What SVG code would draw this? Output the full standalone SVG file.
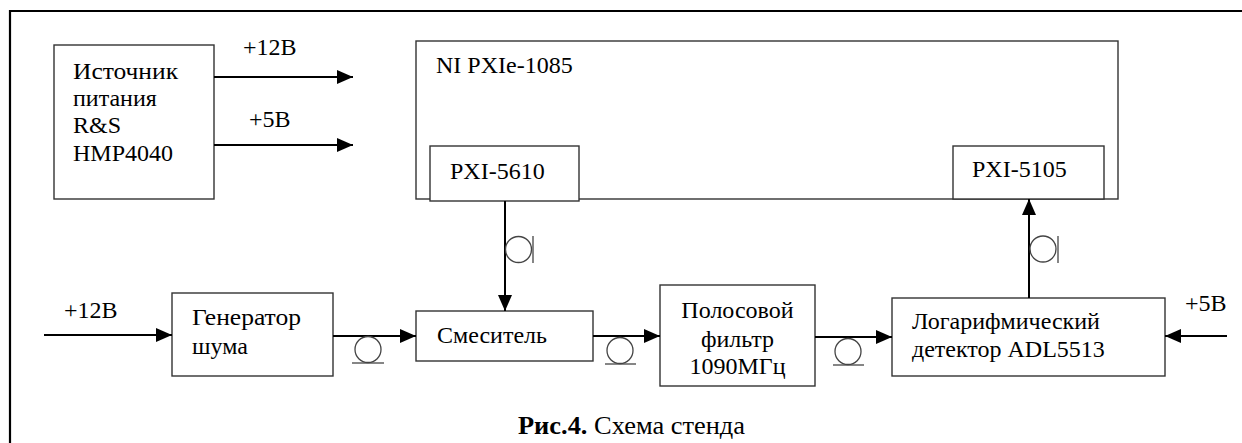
<svg xmlns="http://www.w3.org/2000/svg" width="1242" height="443" viewBox="0 0 1242 443">
<defs>
<marker id="arr" markerUnits="userSpaceOnUse" markerWidth="16" markerHeight="14" refX="16" refY="7" orient="auto">
<path d="M0,0 L16,7 L0,14 z" fill="#000"/>
</marker>
<style>
.box{fill:#fff;stroke:#333;stroke-width:1.4}
.t{font-size:24px;fill:#000}
.c{fill:none;stroke:#000;stroke-width:2}
.coil{fill:none;stroke:#444;stroke-width:1.3}
.frame{fill:none;stroke:#000;stroke-width:2.2}
</style>
</defs>
<rect width="1242" height="443" fill="#fff"/>
<path class="frame" d="M10,443 L10,11 L1242,11"/>
<g font-family="'Liberation Serif', Tinos, 'Times New Roman', 'DejaVu Serif', serif">
<g id="source">
<rect class="box" x="54" y="45" width="160" height="154"/>
<text class="t" x="73" y="79" textLength="105" lengthAdjust="spacingAndGlyphs">Источник</text>
<text class="t" x="73" y="106">питания</text>
<text class="t" x="73" y="133">R&amp;S</text>
<text class="t" x="73" y="161">HMP4040</text>
</g>

<g id="ni-chassis">
<rect class="box" x="416" y="41" width="702" height="158"/>
<text class="t" x="436" y="73">NI PXIe-1085</text>
</g>
<g id="pxi5610">
<rect class="box" x="430" y="146" width="149" height="55"/>
<text class="t" x="450" y="179">PXI-5610</text>
</g>
<g id="pxi5105">
<rect class="box" x="953" y="146" width="151" height="53"/>
<text class="t" x="972" y="177">PXI-5105</text>
</g>

<g id="generator">
<rect class="box" x="172" y="293" width="161" height="83"/>
<text class="t" x="192" y="325" textLength="109" lengthAdjust="spacingAndGlyphs">Генератор</text>
<text class="t" x="192" y="354">шума</text>
</g>
<g id="mixer">
<rect class="box" x="416" y="311" width="177" height="50"/>
<text class="t" x="437" y="343">Смеситель</text>
</g>
<g id="filter">
<rect class="box" x="660" y="285" width="155" height="101"/>
<text class="t" x="737.5" y="318" text-anchor="middle">Полосовой</text>
<text class="t" x="737.5" y="347" text-anchor="middle">фильтр</text>
<text class="t" x="737.5" y="374" text-anchor="middle">1090МГц</text>
</g>
<g id="detector">
<rect class="box" x="892" y="298" width="273" height="78"/>
<text class="t" x="912" y="329">Логарифмический</text>
<text class="t" x="912" y="357">детектор ADL5513</text>
</g>

<g id="connectors">
<line class="c" x1="214" y1="77" x2="353" y2="77" marker-end="url(#arr)"/>
<text class="t" x="243" y="55">+12В</text>
<line class="c" x1="214" y1="145" x2="353" y2="145" marker-end="url(#arr)"/>
<text class="t" x="249" y="127">+5В</text>

<line class="c" x1="44" y1="335" x2="172" y2="335" marker-end="url(#arr)"/>
<text class="t" x="64" y="318">+12В</text>

<line class="c" x1="333" y1="336" x2="416" y2="336" marker-end="url(#arr)"/>
<circle class="coil" cx="368" cy="349.5" r="13"/>
<line class="coil" x1="352" y1="363" x2="384" y2="363"/>

<line class="c" x1="505" y1="201" x2="505" y2="311" marker-end="url(#arr)"/>
<circle class="coil" cx="518.5" cy="249.5" r="13"/>
<line class="coil" x1="533" y1="236" x2="533" y2="263"/>

<line class="c" x1="593" y1="336" x2="660" y2="336" marker-end="url(#arr)"/>
<circle class="coil" cx="620" cy="350.5" r="13"/>
<line class="coil" x1="605" y1="364" x2="636" y2="364"/>

<line class="c" x1="815" y1="337" x2="892" y2="337" marker-end="url(#arr)"/>
<circle class="coil" cx="848" cy="351.5" r="13"/>
<line class="coil" x1="833" y1="365" x2="864" y2="365"/>

<line class="c" x1="1029" y1="298" x2="1029" y2="199" marker-end="url(#arr)"/>
<circle class="coil" cx="1043" cy="249" r="13"/>
<line class="coil" x1="1058" y1="236" x2="1058" y2="263"/>

<line class="c" x1="1227" y1="336" x2="1165" y2="336" marker-end="url(#arr)"/>
<text class="t" x="1185" y="311">+5В</text>
</g>

<text x="518" y="434" font-size="26" fill="#000" textLength="227" lengthAdjust="spacingAndGlyphs"><tspan font-weight="bold">Рис.4.</tspan> Схема стенда</text>
</g>
</svg>
